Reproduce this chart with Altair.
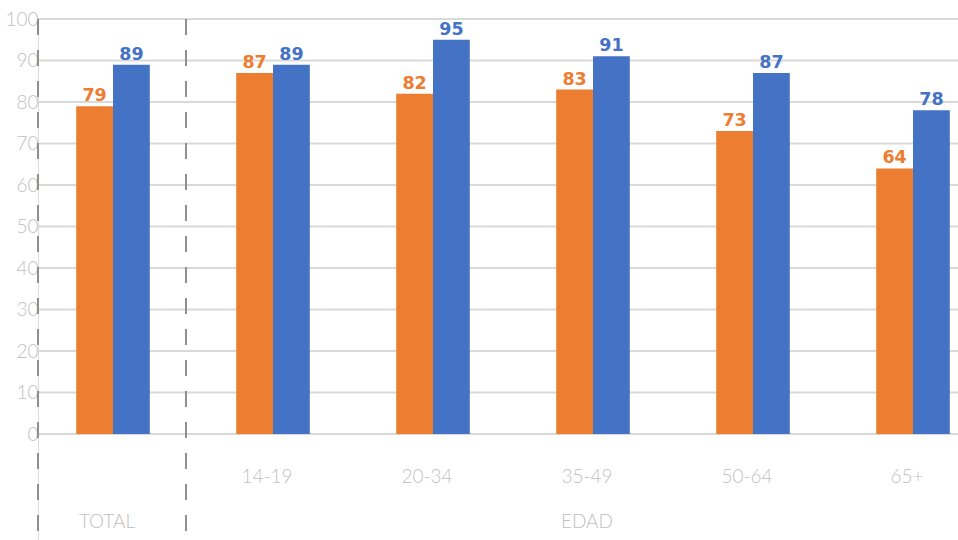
import altair as alt
import pandas as pd

# Grouped bars: TOTAL plus five age bands (EDAD)
categories = ["TOTAL", "14-19", "20-34", "35-49", "50-64", "65+"]
serie_naranja = [79, 87, 82, 83, 73, 64]
serie_azul = [89, 89, 95, 91, 87, 78]

COLOR_NARANJA = "#ED7D31"
COLOR_AZUL = "#4472C4"
GRIS_TEXTO = "#bfbfbf"
FONT = "Lato"
FONT_VALOR = "DejaVu Sans"

BAR_W = 0.23          # bar width in group-slot units
X_MIN, X_MAX = -0.46875, 5.28125
Y_MIN, Y_MAX = -25.54, 100

rows = []
for i, cat in enumerate(categories):
    rows.append({"idx": i, "cat": cat, "serie": "naranja", "valor": serie_naranja[i],
                 "x0": i - BAR_W, "x1": i, "xc": i - BAR_W / 2})
    rows.append({"idx": i, "cat": cat, "serie": "azul", "valor": serie_azul[i],
                 "x0": i, "x1": i + BAR_W, "xc": i + BAR_W / 2})
df = pd.DataFrame(rows)

xs = alt.Scale(domain=[X_MIN, X_MAX], nice=False, zero=False)
ys = alt.Scale(domain=[Y_MIN, Y_MAX], nice=False, zero=False)
color = alt.Color("serie:N", scale=alt.Scale(domain=["naranja", "azul"],
                                               range=[COLOR_NARANJA, COLOR_AZUL]),
                  legend=None)

base = alt.Chart(df)

# gridlines 0..100
grid_df = pd.DataFrame({"v": list(range(0, 101, 10))})
grid = alt.Chart(grid_df).mark_rule(color="#d9d9d9", strokeWidth=2).encode(
    y=alt.Y("v:Q", scale=ys,
            axis=alt.Axis(values=list(range(0, 101, 10)), grid=False, domain=False,
                          ticks=False, labelColor=GRIS_TEXTO, labelFontSize=19,
                          labelFont=FONT, labelFontWeight=300, labelPadding=0,
                          title=None))
)

# dashed separators: left edge and between TOTAL and EDAD
sep_df = pd.DataFrame({"x": [X_MIN, 0.45625]})
seps = alt.Chart(sep_df).mark_rule(color="#8f8f8f", strokeWidth=2,
                                   strokeDash=[16, 15]).encode(
    x=alt.X("x:Q", scale=xs, axis=None)
)

bars = base.mark_bar(size=1).encode(
    x=alt.X("x0:Q", scale=xs, axis=None),
    x2="x1:Q",
    y=alt.Y("valor:Q", scale=ys),
    y2=alt.datum(0),
    color=color,
)

labels = base.mark_text(font=FONT_VALOR, fontWeight="bold", fontSize=17.5,
                        baseline="alphabetic", dy=-5).encode(
    x=alt.X("xc:Q", scale=xs),
    y=alt.Y("valor:Q", scale=ys),
    text="valor:Q",
    color=color,
)

# category labels under the bars
cat_df = pd.DataFrame({"idx": list(range(1, len(categories))),
                       "cat": categories[1:], "y": [-10.4] * (len(categories) - 1)})
cat_text = alt.Chart(cat_df).mark_text(font=FONT, fontWeight=300, fontSize=19,
                                       color=GRIS_TEXTO, baseline="middle", dx=-6).encode(
    x=alt.X("idx:Q", scale=xs), y=alt.Y("y:Q", scale=ys), text="cat:N"
)

grp_df = pd.DataFrame({"x": [0, 3], "txt": ["TOTAL", "EDAD"], "y": [-21.2, -21.2]})
grp_text = alt.Chart(grp_df).mark_text(font=FONT, fontWeight=300, fontSize=19,
                                       color=GRIS_TEXTO, baseline="middle", dx=-6).encode(
    x=alt.X("x:Q", scale=xs), y=alt.Y("y:Q", scale=ys), text="txt:N"
)

chart = alt.layer(grid, seps, bars, labels, cat_text, grp_text).properties(
    width=920, height=521,
    autosize=alt.AutoSizeParams(type="none"),
    padding={"left": 38, "top": 19, "right": 0, "bottom": 0},
).configure_view(stroke=None).configure(background="white")

chart.save("out.html", embed_options={"renderer": "svg", "actions": False})
